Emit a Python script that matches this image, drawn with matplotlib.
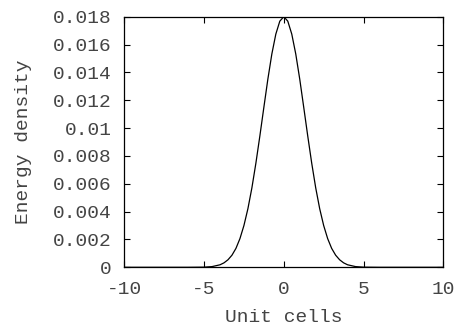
import matplotlib
matplotlib.use('Agg')
import matplotlib.pyplot as plt

# Energy density profile (symmetric about 0)
half_x = [0.0, 0.25, 0.5, 0.75, 1.0, 1.25, 1.5, 1.75, 2.0, 2.25, 2.5,
          2.75, 3.0, 3.25, 3.5, 3.75, 4.0, 4.5, 5.0, 6.0, 10.0]
half_e = [0.0180, 0.01768, 0.01675, 0.01532, 0.01351, 0.01149, 0.00944,
          0.00748, 0.00571, 0.00421, 0.00300, 0.00206, 0.00136, 0.00087,
          0.00054, 0.00032, 0.00018, 0.00005, 0.00001, 0.0, 0.0]

cells = [-v for v in half_x[:0:-1]] + half_x
energy = half_e[:0:-1] + half_e

x_ticks = [-10, -5, 0, 5, 10]
y_ticks = [0, 0.002, 0.004, 0.006, 0.008, 0.01, 0.012, 0.014, 0.016, 0.018]
y_tick_labels = ['0', '0.002', '0.004', '0.006', '0.008', '0.01',
                 '0.012', '0.014', '0.016', '0.018']

plt.rcParams['font.family'] = ['Liberation Mono', 'DejaVu Sans Mono']
plt.rcParams['font.size'] = 14

fig = plt.figure(figsize=(4.67, 3.28), dpi=100)
ax = fig.add_axes([124.3 / 467, 1 - 267.3 / 328, 319 / 467, 250.6 / 328])

ax.plot(cells, energy, color='black', linewidth=0.9)

ax.set_xlim(-10, 10)
ax.set_ylim(0, 0.018)
ax.set_xticks(x_ticks)
ax.set_xticklabels([str(t) for t in x_ticks])
ax.set_yticks(y_ticks)
ax.set_yticklabels(y_tick_labels)

ax.tick_params(direction='in', length=4, width=0.8, top=True, right=True,
               colors='black', labelcolor='#444444')
ax.tick_params(axis='x', pad=10)
ax.tick_params(axis='y', pad=9)
for spine in ax.spines.values():
    spine.set_linewidth(0.9)

ax.set_xlabel('Unit cells', color='#444444', labelpad=8)
ax.set_ylabel('Energy density', color='#444444', labelpad=15)

fig.savefig('out.png', dpi=100)
